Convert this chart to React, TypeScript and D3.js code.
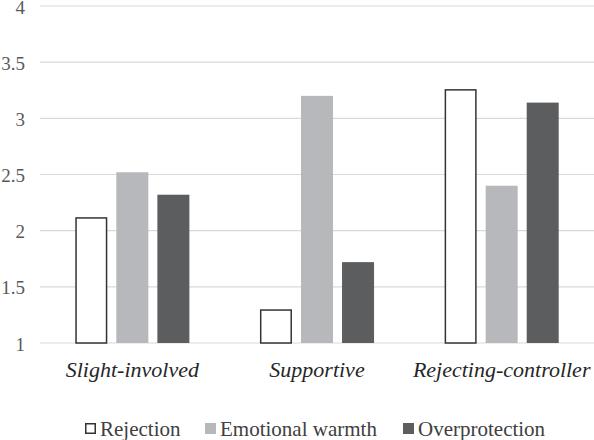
import React from "react";
import * as d3 from "d3";

const categories = ["Slight-involved", "Supportive", "Rejecting-controller"];
const series = ["Rejection", "Emotional warmth", "Overprotection"];
const rejection = [2.12, 1.3, 3.26];
const emotionalWarmth = [2.52, 3.2, 2.4];
const overprotection = [2.32, 1.72, 3.14];
const yTicks = [1, 1.5, 2, 2.5, 3, 3.5, 4];
const tickLabels = ["1", "1.5", "2", "2.5", "3", "3.5", "4"];

const W = 594;
const H = 440;
const FONT = "Liberation Serif";
const fills = ["#ffffff", "#b7b8bb", "#5c5d5f"];
const strokes = ["#333333", "none", "none"];
const legendX = [85, 205, 403];

export default function App() {
  const values = [rejection, emotionalWarmth, overprotection];
  const left = 40, right = 594, top = 6, bottom = 343;
  const y = d3.scaleLinear().domain([1, 4]).range([bottom, top]);
  const x0 = d3.scaleBand<string>().domain(categories).range([left, right]).padding(0);
  const x1 = d3.scaleBand<string>().domain(series).range([0, x0.bandwidth()]).paddingInner(0.22).paddingOuter(0.86);
  const bw = x1.bandwidth();

  return (
    <svg width={W} height={H} style={{ position: "absolute", left: 0, top: 0, background: "#fff" }}>
      {yTicks.map((t, i) => (
        <g key={t}>
          <line x1={left} x2={right} y1={y(t)} y2={y(t)} stroke="#d9d9d9" strokeWidth={1.2} />
          <text x={25} y={y(t) + 7.5} textAnchor="end" fontFamily={FONT} fontSize={19} fill="#595959">
            {tickLabels[i]}
          </text>
        </g>
      ))}
      {categories.map((c, ci) => (
        <g key={c}>
          {series.map((s, si) => {
            const v = values[si][ci];
            const bx = (x0(c) as number) + (x1(s) as number);
            if (si === 0) {
              return (
                <rect key={s} x={bx + 0.75} y={y(v) + 0.75} width={bw - 1.5} height={y(1) - y(v) - 0.75}
                  fill={fills[si]} stroke={strokes[si]} strokeWidth={1.5} />
              );
            }
            return <rect key={s} x={bx} y={y(v)} width={bw} height={y(1) - y(v)} fill={fills[si]} />;
          })}
          <text x={(x0(c) as number) + x0.bandwidth() / 2} y={377} textAnchor="middle" fontFamily={FONT}
            fontStyle="italic" fontSize={22} fill="#262626">{c}</text>
        </g>
      ))}
      {series.map((s, si) => (
        <g key={s} transform={`translate(${legendX[si]},0)`}>
          {si === 0 ? (
            <rect x={0.75} y={423.75} width={9.5} height={9.5} fill={fills[si]} stroke={strokes[si]} strokeWidth={1.5} />
          ) : (
            <rect x={0} y={423} width={11} height={11} fill={fills[si]} />
          )}
          <text x={15} y={436} fontFamily={FONT} fontSize={21} fill="#404040">{s}</text>
        </g>
      ))}
    </svg>
  );
}
